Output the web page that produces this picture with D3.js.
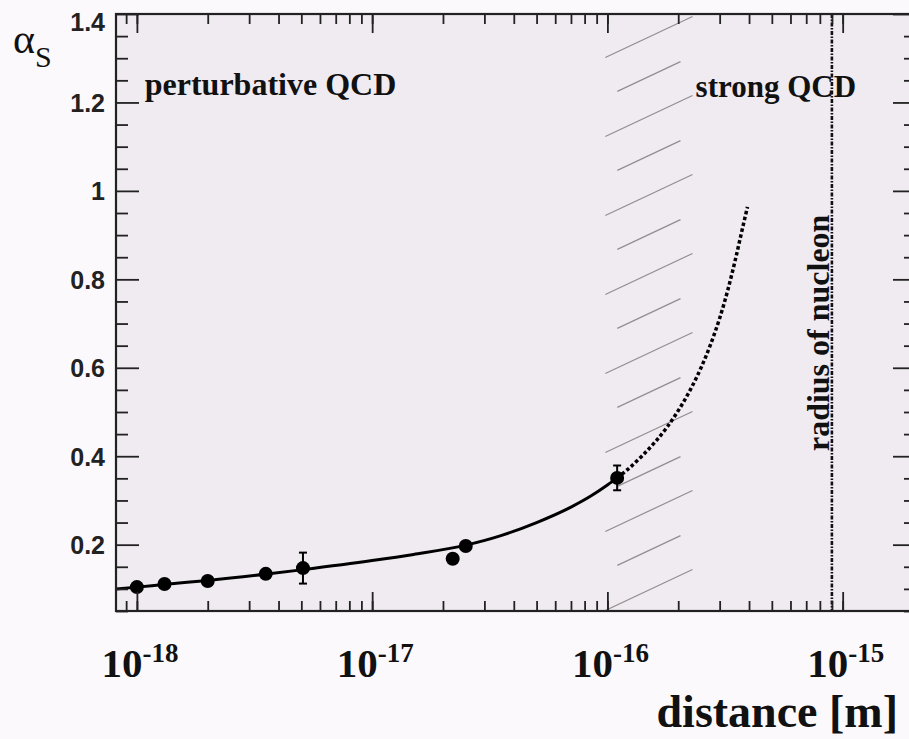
<!DOCTYPE html>
<html>
<head>
<meta charset="utf-8">
<script src="https://cdn.jsdelivr.net/npm/d3@7"></script>
<style>
  body { margin: 0; background: #fcf9fc; }
  svg { display: block; }
</style>
</head>
<body>
<svg class="chart"></svg>
<script>
// measured alpha_s points (distance in m)
var pointDist  = [1.0e-18, 1.31e-18, 2.0e-18, 3.53e-18, 5.08e-18, 2.2e-17, 2.5e-17, 1.1e-16];
var pointAlpha = [0.104, 0.111, 0.118, 0.134, 0.147, 0.168, 0.197, 0.351];
var pointErr   = [0, 0, 0, 0, 0.035, 0, 0, 0.028];

// running coupling curve, solid part
var fitDist  = [8.15e-19, 1e-18, 1.3e-18, 2e-18, 3.5e-18, 5e-18, 1e-17, 1.5e-17, 2.5e-17, 3.5e-17, 5e-17, 7e-17, 8.5e-17, 1e-16, 1.1e-16];
var fitAlpha = [0.100, 0.104, 0.110, 0.119, 0.133, 0.143, 0.164, 0.178, 0.199, 0.220, 0.250, 0.285, 0.310, 0.335, 0.351];

// extrapolation, dotted part
var extDist  = [1.1e-16, 1.2e-16, 1.4e-16, 1.6e-16, 1.8e-16, 2.0e-16, 2.25e-16, 2.5e-16, 2.75e-16, 3.0e-16, 3.25e-16, 3.5e-16, 3.75e-16, 3.94e-16];
var extAlpha = [0.351, 0.367, 0.400, 0.433, 0.467, 0.503, 0.550, 0.600, 0.654, 0.712, 0.776, 0.845, 0.915, 0.964];

var hatchBand = [0.98e-16, 2.3e-16];
var nucleonRadius = 0.9e-15;

var yTicks = [0.2, 0.4, 0.6, 0.8, 1.0, 1.2, 1.4];
var yTickLabels = ["0.2", "0.4", "0.6", "0.8", "1", "1.2", "1.4"];
var xTicks = [1e-18, 1e-17, 1e-16, 1e-15];
var xTickExps = ["-18", "-17", "-16", "-15"];

var W = 909, H = 739;
var margin = {top: 14, right: -7, bottom: 128, left: 116};

var x = d3.scaleLog()
    .domain([8.15e-19, 2.05e-15])
    .range([margin.left, W - margin.right]);

var y = d3.scaleLinear()
    .domain([0.05, 1.4])
    .range([H - margin.bottom, margin.top]);

var svg = d3.select(".chart")
    .attr("width", W)
    .attr("height", H);

var x0 = x.range()[0], x1 = x.range()[1];
var y0 = y.range()[1], y1 = y.range()[0];

// plot background
svg.append("rect")
    .attr("x", x0).attr("y", y0)
    .attr("width", x1 - x0).attr("height", y1 - y0)
    .attr("fill", "#f0eaf1");

svg.append("clipPath").attr("id", "plotclip")
  .append("rect")
    .attr("x", x0).attr("y", y0)
    .attr("width", x1 - x0).attr("height", y1 - y0);

var plot = svg.append("g").attr("clip-path", "url(#plotclip)");

// hatched band
var hx0 = x(hatchBand[0]), hx1 = x(hatchBand[1]);
var hcx = (hx0 + hx1) / 2;
var slope = 0.47, inset = 12;
var hatch = [];
for (var i = 0, cy = y0 + 23; cy < y1 + 10; i++, cy += 39.5) {
  var a = i % 2 === 0 ? hx0 : hx0 + inset;
  var b = i % 2 === 0 ? hx1 : hx1 - inset;
  hatch.push({x1: a, y1: cy + (hcx - a) * slope, x2: b, y2: cy - (b - hcx) * slope});
}
plot.selectAll(".hatch")
    .data(hatch)
  .enter().append("line")
    .attr("class", "hatch")
    .attr("x1", d => d.x1).attr("y1", d => d.y1)
    .attr("x2", d => d.x2).attr("y2", d => d.y2)
    .attr("stroke", "#8f8f8f")
    .attr("stroke-width", 1.2);

// radius of nucleon line
plot.append("line")
    .attr("x1", x(nucleonRadius)).attr("x2", x(nucleonRadius))
    .attr("y1", y0).attr("y2", y1)
    .attr("stroke", "#111")
    .attr("stroke-width", 2.6)
    .attr("stroke-dasharray", "4,1.5,1.5,1.5");

var line = d3.line()
    .x(d => d[0])
    .y(d => d[1])
    .curve(d3.curveMonotoneX);

plot.append("path")
    .attr("d", line(fitDist.map((d, i) => [x(d), y(fitAlpha[i])])))
    .attr("fill", "none")
    .attr("stroke", "#000")
    .attr("stroke-width", 3);

plot.append("path")
    .attr("d", line(extDist.map((d, i) => [x(d), y(extAlpha[i])])))
    .attr("fill", "none")
    .attr("stroke", "#000")
    .attr("stroke-width", 3.5)
    .attr("stroke-dasharray", "3.5,2.5");

// error bars
var pts = pointDist.map((d, i) => ({d: d, a: pointAlpha[i], e: pointErr[i]}));
var eb = plot.selectAll(".err")
    .data(pts.filter(p => p.e > 0))
  .enter().append("g").attr("class", "err")
    .attr("stroke", "#000").attr("stroke-width", 2);
eb.append("line")
    .attr("x1", p => x(p.d)).attr("x2", p => x(p.d))
    .attr("y1", p => y(p.a + p.e)).attr("y2", p => y(p.a - p.e));
eb.append("line")
    .attr("x1", p => x(p.d) - 4).attr("x2", p => x(p.d) + 4)
    .attr("y1", p => y(p.a + p.e)).attr("y2", p => y(p.a + p.e));
eb.append("line")
    .attr("x1", p => x(p.d) - 4).attr("x2", p => x(p.d) + 4)
    .attr("y1", p => y(p.a - p.e)).attr("y2", p => y(p.a - p.e));

plot.selectAll(".pt")
    .data(pts)
  .enter().append("circle")
    .attr("class", "pt")
    .attr("cx", p => x(p.d))
    .attr("cy", p => y(p.a))
    .attr("r", 7)
    .attr("fill", "#000");

// axes: ticks only, all pointing inside
var xMinor = [];
for (var k = -19; k <= -15; k++)
  for (var m = 1; m <= 9; m++) {
    var v = m * Math.pow(10, k);
    if (v >= x.domain()[0] && v <= x.domain()[1]) xMinor.push(v);
  }
var yMinor = d3.range(0.05, 1.4001, 0.05).filter(v => yTicks.indexOf(+v.toFixed(2)) < 0);

function ticks(axis, vals, size) {
  return g => g.call(axis.tickValues(vals).tickSize(size).tickFormat(""))
    .call(g => g.select(".domain").remove())
    .call(g => g.selectAll(".tick line").attr("stroke", "#222").attr("stroke-width", 1.8));
}

svg.append("g").attr("transform", "translate(0," + y1 + ")").call(ticks(d3.axisBottom(x), xMinor, -10));
svg.append("g").attr("transform", "translate(0," + y1 + ")").call(ticks(d3.axisBottom(x), xTicks, -19));
svg.append("g").attr("transform", "translate(0," + y0 + ")").call(ticks(d3.axisTop(x), xMinor, -10));
svg.append("g").attr("transform", "translate(0," + y0 + ")").call(ticks(d3.axisTop(x), xTicks, -19));
svg.append("g").attr("transform", "translate(" + x0 + ",0)").call(ticks(d3.axisLeft(y), yMinor, -12));
svg.append("g").attr("transform", "translate(" + x0 + ",0)").call(ticks(d3.axisLeft(y), yTicks, -23));
svg.append("g").attr("transform", "translate(" + x1 + ",0)").call(ticks(d3.axisRight(y), yMinor, -12));
svg.append("g").attr("transform", "translate(" + x1 + ",0)").call(ticks(d3.axisRight(y), yTicks, -23));

// frame
svg.append("rect")
    .attr("x", x0).attr("y", y0)
    .attr("width", x1 - x0).attr("height", y1 - y0)
    .attr("fill", "none")
    .attr("stroke", "#222")
    .attr("stroke-width", 2.2);

// y tick labels
svg.selectAll(".ylab")
    .data(yTicks)
  .enter().append("text")
    .attr("class", "ylab")
    .attr("x", x0 - 11)
    .attr("y", d => Math.max(y(d), y0 + 7))
    .attr("dy", "0.38em")
    .attr("text-anchor", "end")
    .style("font-family", "'Liberation Sans', Arial, sans-serif")
    .style("font-weight", "bold")
    .style("font-size", "25px")
    .style("fill", "#222")
    .text((d, i) => yTickLabels[i]);

// x tick labels 10^n
var xl = svg.selectAll(".xlab")
    .data(xTicks)
  .enter().append("text")
    .attr("class", "xlab")
    .attr("x", d => x(d) + 3)
    .attr("y", 677)
    .attr("text-anchor", "middle")
    .style("font-family", "'Liberation Serif', 'Times New Roman', serif")
    .style("font-weight", "bold")
    .style("fill", "#111");
xl.append("tspan").style("font-size", "41px").text("10");
xl.append("tspan").attr("dy", -15).style("font-size", "27px").text((d, i) => xTickExps[i]);

// axis titles
svg.append("text")
    .attr("x", 898).attr("y", 727)
    .attr("text-anchor", "end")
    .style("font-family", "'Liberation Serif', 'Times New Roman', serif")
    .style("font-weight", "bold")
    .style("font-size", "46px")
    .style("fill", "#111")
    .text("distance [m]");

var at = svg.append("text")
    .attr("x", 13).attr("y", 53)
    .style("font-family", "'Liberation Serif', 'Times New Roman', serif")
    .style("fill", "#111");
at.append("tspan").style("font-size", "42px").text("α");
at.append("tspan").attr("dy", 14).style("font-size", "30px").text("S");

// annotations
var annotFont = "'Liberation Serif', 'Times New Roman', serif";
svg.append("text")
    .attr("x", x(1.08e-18)).attr("y", y(1.217))
    .style("font-family", annotFont).style("font-weight", "bold")
    .style("font-size", "32px").style("fill", "#111")
    .text("perturbative QCD");

svg.append("text")
    .attr("x", x(2.37e-16)).attr("y", y(1.213))
    .style("font-family", annotFont).style("font-weight", "bold")
    .style("font-size", "31px").style("fill", "#111")
    .text("strong QCD");

svg.append("text")
    .attr("transform", "translate(" + x(0.872e-15) + "," + y(0.679) + ") rotate(-90)")
    .attr("text-anchor", "middle")
    .style("font-family", annotFont).style("font-weight", "bold")
    .style("font-size", "32px").style("fill", "#111")
    .text("radius of nucleon");
</script>
</body>
</html>
